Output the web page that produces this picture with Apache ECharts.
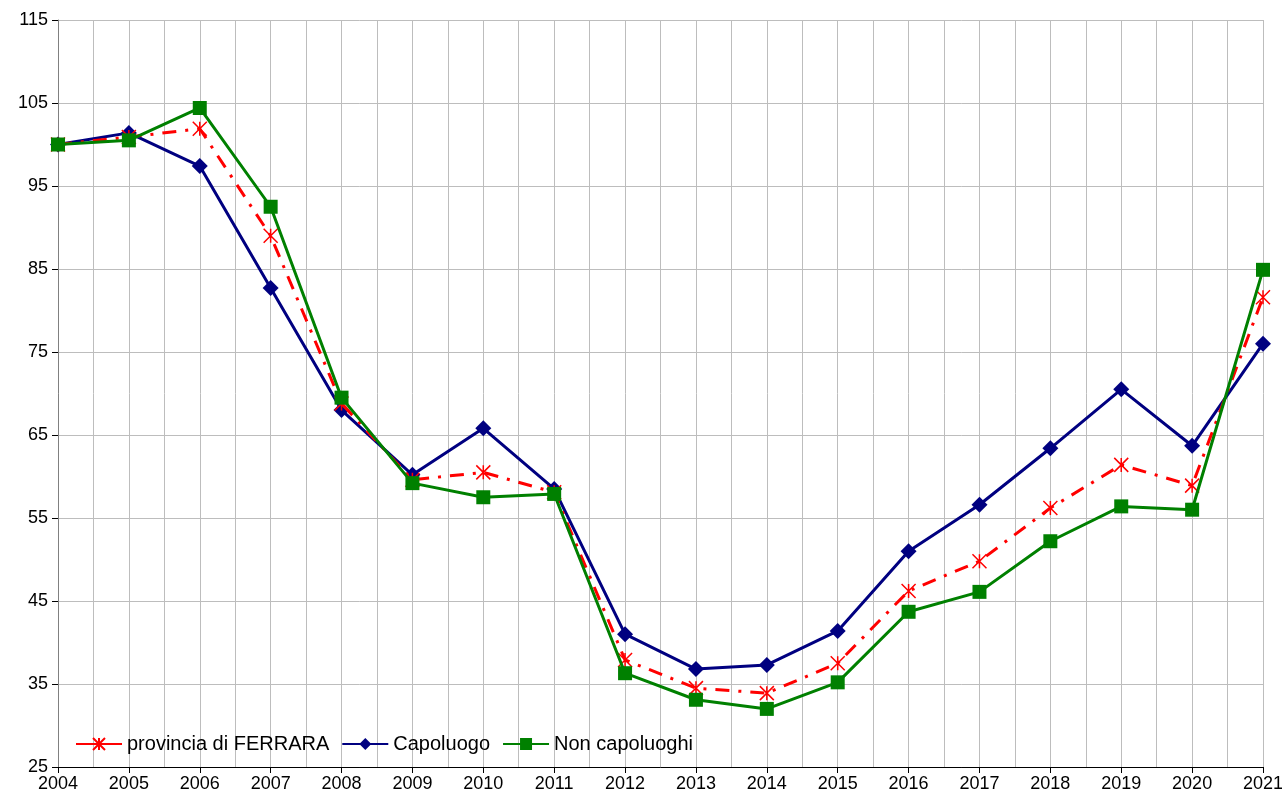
<!DOCTYPE html>
<html>
<head>
<meta charset="utf-8">
<script src="https://cdn.jsdelivr.net/npm/echarts@6/dist/echarts.min.js"></script>
<style>
  html, body { margin: 0; padding: 0; background: #fff; }
  #chart { width: 1282px; height: 802px; }
</style>
</head>
<body>
<div id="chart"></div>
<script>
// anni
const years = [2004, 2005, 2006, 2007, 2008, 2009, 2010, 2011, 2012, 2013, 2014, 2015, 2016, 2017, 2018, 2019, 2020, 2021];

// numeri indice (2004 = 100)
const provincia = [100, 100.9, 101.9, 89.0, 68.8, 59.6, 60.5, 58.1, 37.9, 34.5, 33.9, 37.5, 46.2, 49.8, 56.2, 61.4, 58.9, 81.6];
const capoluogo = [100, 101.4, 97.4, 82.7, 68.0, 60.2, 65.8, 58.5, 41.0, 36.8, 37.3, 41.4, 51.0, 56.6, 63.4, 70.5, 63.7, 76.0];
const nonCapoluoghi = [100, 100.5, 104.4, 92.5, 69.5, 59.2, 57.5, 57.9, 36.3, 33.1, 32.0, 35.2, 43.7, 46.1, 52.2, 56.4, 56.0, 84.9];

const yMin = 25, yMax = 115, yStep = 10;

const pairs = (vals) => years.map((y, i) => [y, vals[i]]);

const starPath = "path://M0,0L10,10M10,0L0,10M5,0L5,10";
const fontFamily = "Liberation Sans, Arial, sans-serif";

const chart = echarts.init(document.getElementById("chart"));

chart.setOption({
  animation: false,
  backgroundColor: "#ffffff",
  grid: { left: 58, right: 19, top: 20, bottom: 35, containLabel: false, outerBoundsMode: "none" },
  legend: {
    left: 70,
    top: 729,
    itemWidth: 46,
    itemHeight: 15,
    itemGap: 12,
    textStyle: { fontFamily, fontSize: 20, color: "#000" },
    data: [
      { name: "provincia di FERRARA", lineStyle: { type: "solid" } },
      "Capoluogo",
      "Non capoluoghi",
    ],
  },
  xAxis: {
    type: "value",
    min: 2004,
    max: 2021,
    interval: 1,
    axisLine: { show: true, lineStyle: { color: "#000", width: 1 } },
    axisTick: { show: true, length: 6, lineStyle: { color: "#000" } },
    axisLabel: {
      fontFamily, fontSize: 18, color: "#000", margin: 8,
      formatter: (v) => String(v),
    },
    splitLine: { show: true, lineStyle: { color: "#bdbdbd", width: 1 } },
    minorTick: { show: false, splitNumber: 2 },
    minorSplitLine: { show: true, lineStyle: { color: "#bdbdbd", width: 1 } },
  },
  yAxis: {
    type: "value",
    min: yMin,
    max: yMax,
    interval: yStep,
    axisLine: { show: true, lineStyle: { color: "#808080", width: 1 } },
    axisTick: { show: true, length: 6, lineStyle: { color: "#000" } },
    axisLabel: { fontFamily, fontSize: 18, color: "#000", margin: 10 },
    splitLine: { show: true, lineStyle: { color: "#bdbdbd", width: 1 } },
  },
  series: [
    {
      name: "provincia di FERRARA",
      type: "line",
      data: pairs(provincia),
      z: 3,
      symbol: starPath,
      symbolSize: 14,
      lineStyle: { color: "#ff0000", width: 3, type: [14, 9, 3, 9] },
      itemStyle: { color: "#ff0000", borderColor: "#ff0000", borderWidth: 1.5 },
    },
    {
      name: "Capoluogo",
      type: "line",
      data: pairs(capoluogo),
      z: 2,
      symbol: "diamond",
      symbolSize: 16,
      lineStyle: { color: "#000080", width: 3 },
      itemStyle: { color: "#000080" },
    },
    {
      name: "Non capoluoghi",
      type: "line",
      data: pairs(nonCapoluoghi),
      z: 4,
      symbol: "rect",
      symbolSize: 14,
      lineStyle: { color: "#008000", width: 3 },
      itemStyle: { color: "#008000" },
    },
  ],
});
</script>
</body>
</html>
